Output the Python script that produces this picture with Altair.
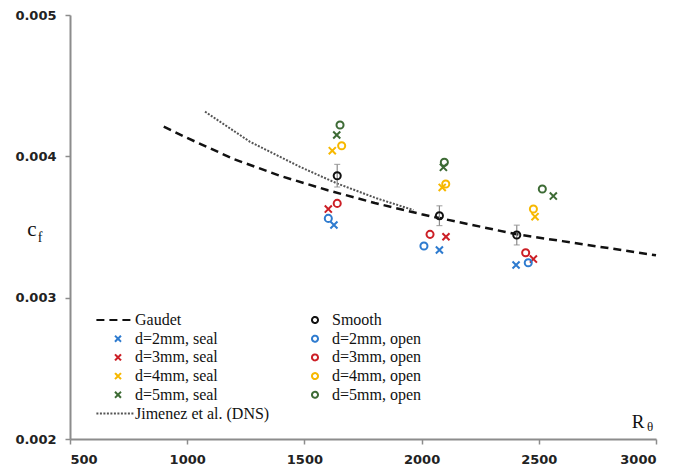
import altair as alt
import pandas as pd

# ---- data ----
# legend entries are laid out column by column
series_order = ["Gaudet", "d=2mm, seal", "d=3mm, seal", "d=4mm, seal", "d=5mm, seal", "Jimenez et al. (DNS)",
                "Smooth", "d=2mm, open", "d=3mm, open", "d=4mm, open", "d=5mm, open"]

re_gaudet = [900, 1000, 1200, 1400, 1600, 1800, 2000, 2200, 2400, 2600, 2800, 3000]
cf_gaudet = [0.00421, 0.00413, 0.00398, 0.00386, 0.00376, 0.00367, 0.00359, 0.00352, 0.00345, 0.00340, 0.00335, 0.00330]

re_jimenez = [1076, 1268, 1481, 1638, 1808, 1965]
cf_jimenez = [0.004316, 0.004103, 0.003926, 0.003809, 0.003703, 0.00362]

re_smooth = [1640, 2076, 2406]
cf_smooth = [0.003863, 0.00358, 0.003443]
err_smooth = [0.00008, 0.00007, 0.00007]

re_d2_seal = [1626, 2076, 2403]
cf_d2_seal = [0.003514, 0.003337, 0.003231]
re_d3_seal = [1602, 2104, 2477]
cf_d3_seal = [0.003627, 0.003431, 0.003273]
re_d4_seal = [1619, 2088, 2484]
cf_d4_seal = [0.00404, 0.00378, 0.003573]
re_d5_seal = [1638, 2093, 2562]
cf_d5_seal = [0.004151, 0.003922, 0.003719]

re_d2_open = [1602, 2010, 2455]
cf_d2_open = [0.003561, 0.003365, 0.003247]
re_d3_open = [1640, 2036, 2444]
cf_d3_open = [0.003667, 0.003448, 0.003318]
re_d4_open = [1659, 2103, 2477]
cf_d4_open = [0.004075, 0.003804, 0.003627]
re_d5_open = [1652, 2097, 2515]
cf_d5_open = [0.004222, 0.003958, 0.003769]

x_ticks = [500, 1000, 1500, 2000, 2500, 3000]
y_ticks = [0.002, 0.003, 0.004, 0.005]

# ---- styles ----
BLUE, RED, YEL, GRN, BLK = "#2e7bcf", "#cc1f26", "#f7b800", "#3d6b35", "#111111"
XSH = "M-1,-1L1,1M-1,1L1,-1"
LINE_SYM = "M-7.2,0L5.3,0"
style = {
    "Gaudet": (BLK, LINE_SYM, [8, 5]),
    "d=2mm, seal": (BLUE, XSH, [1, 0]),
    "d=3mm, seal": (RED, XSH, [1, 0]),
    "d=4mm, seal": (YEL, XSH, [1, 0]),
    "d=5mm, seal": (GRN, XSH, [1, 0]),
    "Jimenez et al. (DNS)": ("#555555", LINE_SYM, [2, 1.5]),
    "Smooth": (BLK, "circle", [1, 0]),
    "d=2mm, open": (BLUE, "circle", [1, 0]),
    "d=3mm, open": (RED, "circle", [1, 0]),
    "d=4mm, open": (YEL, "circle", [1, 0]),
    "d=5mm, open": (GRN, "circle", [1, 0]),
}
colors = [style[s][0] for s in series_order]
shapes = [style[s][1] for s in series_order]
dashes = [style[s][2] for s in series_order]

pts = []
for name, xs_, ys_ in [
    ("Smooth", re_smooth, cf_smooth),
    ("d=2mm, seal", re_d2_seal, cf_d2_seal), ("d=3mm, seal", re_d3_seal, cf_d3_seal),
    ("d=4mm, seal", re_d4_seal, cf_d4_seal), ("d=5mm, seal", re_d5_seal, cf_d5_seal),
    ("d=2mm, open", re_d2_open, cf_d2_open), ("d=3mm, open", re_d3_open, cf_d3_open),
    ("d=4mm, open", re_d4_open, cf_d4_open), ("d=5mm, open", re_d5_open, cf_d5_open),
]:
    for a, b in zip(xs_, ys_):
        pts.append({"series": name, "re": a, "cf": b})
pts = pd.DataFrame(pts)

gaudet = pd.DataFrame({"re": re_gaudet, "cf": cf_gaudet, "series": "Gaudet"})
jimenez = pd.DataFrame({"re": re_jimenez, "cf": cf_jimenez, "series": "Jimenez et al. (DNS)"})
err = pd.DataFrame({"re": re_smooth,
                    "lo": [c - e for c, e in zip(cf_smooth, err_smooth)],
                    "hi": [c + e for c, e in zip(cf_smooth, err_smooth)]})

xs = alt.Scale(domain=[500, 3000], nice=False, zero=False)
ys = alt.Scale(domain=[0.002, 0.005], nice=False, zero=False)
xax = alt.Axis(values=x_ticks, format="d", title=None, grid=False)
yax = alt.Axis(values=y_ticks, format=".3f", title=None, grid=False)

color_enc = alt.Color("series:N", scale=alt.Scale(domain=series_order, range=colors),
                      legend=alt.Legend(title=None, orient="none", legendX=40, legendY=297,
                                        columns=2, columnPadding=37, rowPadding=2.7, padding=0,
                                        labelFont="Liberation Serif", labelFontSize=16,
                                        labelColor="#111"))
dash_enc = alt.StrokeDash("series:N", scale=alt.Scale(domain=series_order, range=dashes))

line_g = alt.Chart(gaudet).mark_line(strokeWidth=2.5).encode(
    x=alt.X("re:Q", scale=xs, axis=xax), y=alt.Y("cf:Q", scale=ys, axis=yax),
    color=color_enc, strokeDash=dash_enc)
line_j = alt.Chart(jimenez).mark_line(strokeWidth=2).encode(
    x="re:Q", y="cf:Q", color=alt.Color("series:N"), strokeDash=alt.StrokeDash("series:N"))

errbar = alt.Chart(err).mark_errorbar(ticks=alt.MarkConfig(size=6), color="#8a8a8a", thickness=1.2).encode(
    x="re:Q", y=alt.Y("lo:Q"), y2="hi:Q")

points = alt.Chart(pts).mark_point(filled=False, strokeWidth=2, opacity=1, size=50).encode(
    x="re:Q", y="cf:Q",
    color=alt.Color("series:N"),
    shape=alt.Shape("series:N", scale=alt.Scale(domain=series_order, range=shapes)))

def txt(s, x, y, size):
    return alt.Chart(pd.DataFrame({"t": [s]})).mark_text(
        font="Liberation Serif", fontSize=size, color="#111", align="center", baseline="middle"
    ).encode(text="t:N", x=alt.value(x), y=alt.value(y))

titles = txt("c", -38, 215, 21) + txt("f", -30, 223, 14) + txt("R", 568, 407, 19) + txt("θ", 580, 412, 13)

chart = alt.layer(line_g, line_j, errbar, points, titles).properties(
    width=586, height=424,
    autosize=alt.AutoSizeParams(type="none"),
    padding={"left": 62, "top": 7, "right": 13, "bottom": 28},
).configure_view(stroke=None).configure_axis(
    domainColor="#8c8c8c", domainWidth=2, tickColor="#8c8c8c", tickWidth=1.5, tickSize=5,
    labelFont="DejaVu Sans", labelFontWeight="bold", labelFontSize=13, labelColor="#222",
    labelPadding=9,
).configure_legend(
    labelFont="Liberation Serif", labelFontSize=16, labelColor="#111", symbolStrokeWidth=2,
    labelOffset=9, symbolFillColor="transparent", symbolSize=36,
)

chart.save("out.html", embed_options={"renderer": "svg", "actions": False})
